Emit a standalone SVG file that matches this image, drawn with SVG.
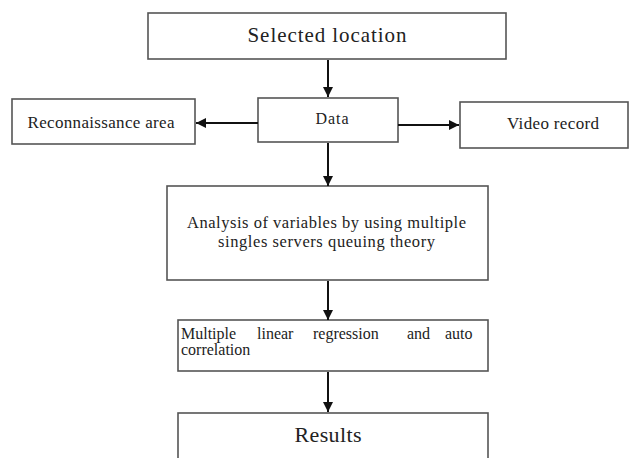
<svg xmlns="http://www.w3.org/2000/svg" width="631" height="458" viewBox="0 0 631 458">
<style>
.box{fill:#fff;stroke:#555;stroke-width:1.6}
.lbl{font-family:"Liberation Serif","Times New Roman",serif;fill:#222}
.con{stroke:#111;stroke-width:2;fill:none}
</style>
<defs>
<marker id="ah" viewBox="0 0 10 10" refX="10" refY="5" markerWidth="5" markerHeight="5" markerUnits="strokeWidth" orient="auto">
<path d="M0,0 L10,5 L0,10 z" fill="#111"/>
</marker>
</defs>
<rect width="631" height="458" fill="#fff"/>
<g id="selected">
<rect class="box" x="148" y="13" width="358" height="46"/>
<text class="lbl" x="327" y="42" font-size="21" text-anchor="middle" textLength="159" lengthAdjust="spacing">Selected location</text>
</g>
<g id="data">
<rect class="box" x="258" y="98" width="140" height="44"/>
<text class="lbl" x="332" y="124" font-size="16" text-anchor="middle" textLength="33" lengthAdjust="spacing">Data</text>
</g>
<g id="recon">
<rect class="box" x="12" y="99" width="183" height="45"/>
<text class="lbl" x="101" y="128" font-size="17" text-anchor="middle" textLength="147" lengthAdjust="spacing">Reconnaissance area</text>
</g>
<g id="video">
<rect class="box" x="460" y="102" width="168" height="46"/>
<text class="lbl" x="553" y="129" font-size="17" text-anchor="middle" textLength="92" lengthAdjust="spacing">Video record</text>
</g>
<g id="analysis">
<rect class="box" x="167" y="186" width="321" height="94"/>
<text class="lbl" x="326.5" y="228" font-size="16.5" text-anchor="middle" textLength="279" lengthAdjust="spacing">Analysis of variables by using multiple</text>
<text class="lbl" x="326.5" y="247" font-size="16.5" text-anchor="middle" textLength="217" lengthAdjust="spacing">singles servers queuing theory</text>
</g>
<g id="regression">
<rect class="box" x="178" y="320" width="310" height="51"/>
<text class="lbl" y="339" font-size="16"><tspan x="181">Multiple</tspan><tspan x="257">linear</tspan><tspan x="313">regression</tspan><tspan x="407">and</tspan><tspan x="445">auto</tspan></text>
<text class="lbl" x="181" y="355" font-size="16">correlation</text>
</g>
<g id="results">
<rect class="box" x="178" y="413" width="310" height="60"/>
<text class="lbl" x="328" y="442" font-size="22" text-anchor="middle" textLength="67" lengthAdjust="spacing">Results</text>
</g>
<g id="connectors">
<line class="con" x1="328" y1="60" x2="328" y2="97" marker-end="url(#ah)"/>
<line class="con" x1="258" y1="123" x2="196" y2="123" marker-end="url(#ah)"/>
<line class="con" x1="398" y1="125" x2="459" y2="125" marker-end="url(#ah)"/>
<line class="con" x1="328" y1="143" x2="328" y2="186" marker-end="url(#ah)"/>
<line class="con" x1="328" y1="281" x2="328" y2="320" marker-end="url(#ah)"/>
<line class="con" x1="328" y1="372" x2="328" y2="412" marker-end="url(#ah)"/>
</g>
</svg>
